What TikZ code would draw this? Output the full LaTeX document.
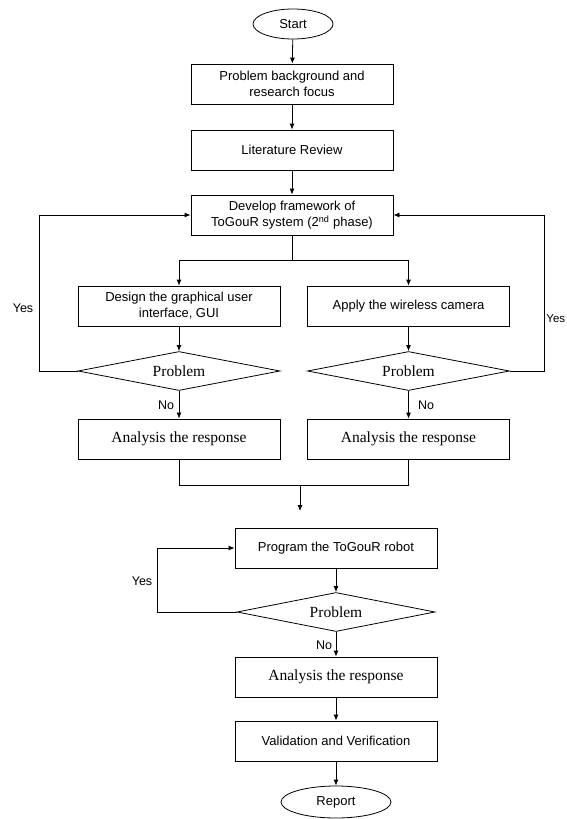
\documentclass[tikz,border=0pt]{standalone}
\usepackage{fontspec}
\setmainfont{Liberation Serif}
\setsansfont{Liberation Sans}
\usepackage{tikz}
\usetikzlibrary{shapes}
\usetikzlibrary{calc}
\usetikzlibrary{arrows.meta}
\tikzset{ proc_box/.style = {rectangle, draw, align=center, minimum width=202pt, minimum height=40pt, inner sep=0pt, font=\sffamily\fontsize{13}{16}\selectfont} }
\tikzset{ resp_box/.style = {proc_box, font=\rmfamily\fontsize{15.5}{18}\selectfont} }
\tikzset{ term_oval/.style = {ellipse, draw, inner sep=0pt, font=\sffamily\fontsize{13}{16}\selectfont} }
\tikzset{ dec_diamond/.style = {diamond, draw, aspect=5, minimum width=202pt, minimum height=39pt, inner sep=0pt, font=\rmfamily\fontsize{15.5}{18}\selectfont} }
\tikzset{ flow_label/.style = {inner sep=0pt, font=\sffamily\fontsize{12.5}{15}\selectfont} }

\begin{document}
\begin{tikzpicture}[x=1pt, y=-1pt, line width=0.8pt, >={Latex[length=6pt, width=5pt]}]
    \useasboundingbox (0,0) rectangle (566,819);
    % top column
    \node[term_oval, minimum width=80pt, minimum height=30pt] (start) at (293,24) {Start};
    \node[proc_box] (bg) at (292,84) {Problem background and\\research focus};
    \node[proc_box] (lit) at (292,150) {Literature Review};
    \node[proc_box] (dev) at (292,215) {Develop framework of\\ToGouR system (2\textsuperscript{nd} phase)};
    % two branches
    \node[proc_box] (gui) at (179,306) {Design the graphical user\\interface, GUI};
    \node[proc_box] (cam) at (408.5,306) {Apply the wireless camera};
    \node[dec_diamond] (prob_gui) at (179,371) {Problem};
    \node[dec_diamond] (prob_cam) at (408.5,371) {Problem};
    \node[resp_box] (ana_gui) at (179,439) {Analysis the response};
    \node[resp_box] (ana_cam) at (408.5,439) {Analysis the response};
    % bottom column
    \node[proc_box] (prog) at (336,548) {Program the ToGouR robot};
    \node[dec_diamond, minimum width=198pt] (prob_prog) at (336,612) {Problem};
    \node[resp_box] (ana_prog) at (336,677) {Analysis the response};
    \node[proc_box] (val) at (336,741) {Validation and Verification};
    \node[term_oval, minimum width=110pt, minimum height=32pt] (report) at (336,802) {Report};
    \coordinate (split) at (292,260);
    \coordinate (merge) at (300,485);
    \coordinate (merge_end) at (300,511);
    \draw[->] (start) -- (bg);
    \draw[->] (bg) -- (lit);
    \draw[->] (lit) -- (dev);
    \draw (dev) -- (split);
    \draw[->] (split) -| (gui);
    \draw[->] (split) -| (cam);
    \draw[->] (gui) -- (prob_gui);
    \draw[->] (cam) -- (prob_cam);
    \draw[->] (prob_gui) -- (ana_gui);
    \draw[->] (prob_cam) -- (ana_cam);
    \draw[->] (prob_gui.west) -- (39,371) |- (dev.west);
    \draw[->] (prob_cam.east) -- (544,371) |- (dev.east);
    \draw (ana_gui) -- (ana_gui.south |- merge) -- (ana_cam.south |- merge) -- (ana_cam);
    \draw[->] (merge) -- (merge_end);
    \draw[->] (prog) -- (prob_prog);
    \draw[->] (prob_prog) -- (ana_prog);
    \draw[->] (ana_prog) -- (val);
    \draw[->] (val) -- (report);
    \draw[->] (prob_prog.west) -- (157,612) |- (prog.west);
    % labels
    \node[flow_label] (yes_gui) at (23,308) {Yes};
    \node[flow_label, anchor=west, font=\sffamily\fontsize{11.5}{14}\selectfont] (yes_cam) at (546,319) {Yes};
    \node[flow_label] (yes_prog) at (142,581) {Yes};
    \node[flow_label] (no_gui) at (166,405) {No};
    \node[flow_label] (no_cam) at (426,405) {No};
    \node[flow_label] (no_prog) at (324,645) {No};
\end{tikzpicture}
\end{document}
